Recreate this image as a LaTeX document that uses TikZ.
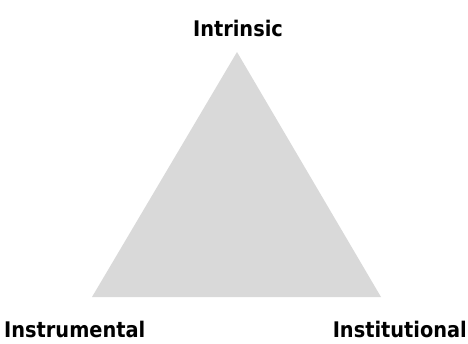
\documentclass[tikz,border=0pt]{standalone}
\usepackage{fontspec}
\setmainfont{DejaVu Sans Condensed}[BoldFont={DejaVu Sans Condensed Bold}]
\begin{document}
\begin{tikzpicture}[x=1pt,y=-1pt,
  lbl/.style={font=\bfseries\fontsize{21.5}{24}\selectfont, inner sep=0pt, text=black}]
\useasboundingbox (0,0) rectangle (468,343);
\coordinate (top) at (237,52);
\coordinate (bl) at (92,297);
\coordinate (br) at (381,297);
\fill[gray!30] (top) -- (bl) -- (br) -- cycle;
\node[lbl, anchor=base] (intr) at (238,36) {Intrinsic};
\node[lbl, anchor=base west] (instr) at (4,337) {Instrumental};
\node[lbl, anchor=base east] (inst) at (467,337) {Institutional};
\end{tikzpicture}
\end{document}
